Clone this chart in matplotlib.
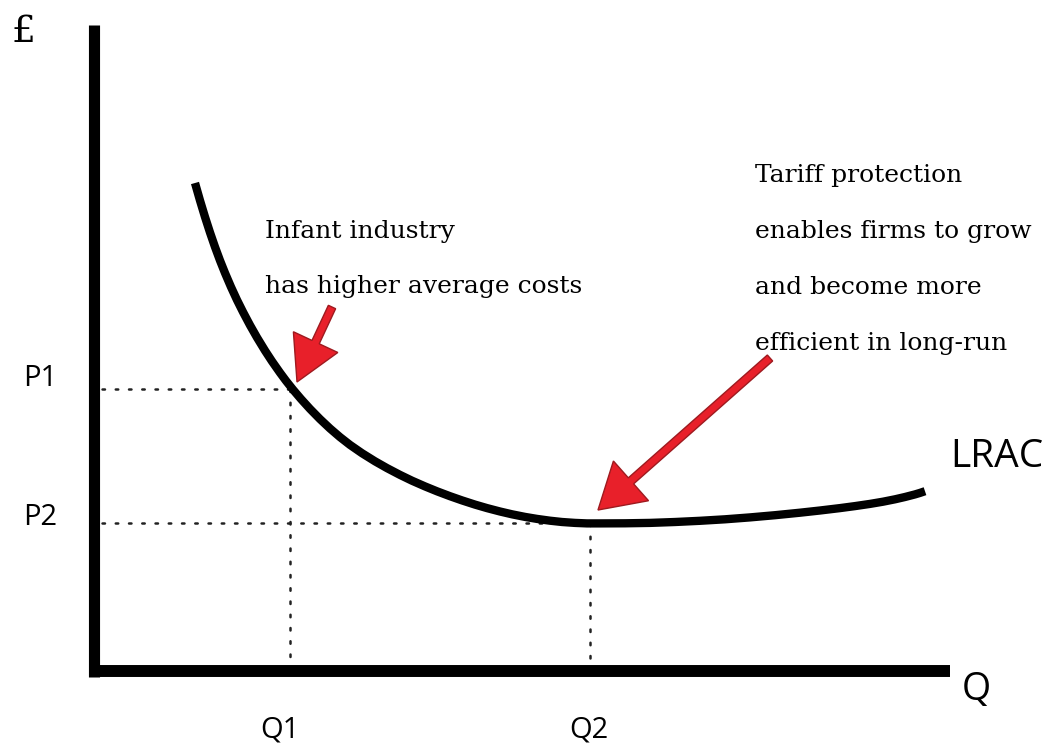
import matplotlib
matplotlib.use("Agg")
import matplotlib.pyplot as plt
from matplotlib.patches import FancyArrow

# Everything is laid out in picture pixels (x right, y down)
W, H = 1055, 746

# LRAC curve
lrac_x = [195, 200, 205, 210, 215, 220, 225, 231, 237, 243, 250, 257, 265, 272,
          280, 286, 293, 301, 310, 320, 330, 340, 350, 362, 375, 387, 400, 412,
          425, 437, 450, 462, 475, 487, 500, 512, 525, 537, 550, 562, 575, 587,
          600, 625, 650, 675, 700, 725, 750, 775, 800, 820, 840, 855, 870, 883,
          895, 905, 915, 920, 925]
lrac_y = [183, 200.5, 217, 232.5, 247, 260.5, 273, 287, 300, 312, 325.2, 337.5,
          350.6, 361.3, 372.7, 380.8, 389.6, 399, 408.9, 419.1, 428.5, 437.1,
          444.9, 453.2, 461.3, 468.1, 474.9, 480.7, 486.4, 491.3, 496.2, 500.4,
          504.6, 508.1, 511.5, 514.3, 516.9, 518.9, 520.7, 522, 522.9, 523.4,
          523.4, 523.3, 522.9, 522, 520.8, 519.3, 517.4, 515.2, 512.7, 510.5,
          508.1, 506.1, 503.9, 501.7, 499.3, 497, 494.4, 492.9, 491.2]

# price / quantity levels
p_levels = [389, 523]
p_labels = ["P1", "P2"]
p_label_y = [386, 525]
q_levels = [290, 590]
q_labels = ["Q1", "Q2"]
q_label_x = [280, 589]

origin_x, origin_y = 93.5, 670.5
axis_top, axis_right = 25, 950

left_note = ["Infant industry", "has higher average costs"]
right_note = ["Tariff protection", "enables firms to grow",
              "and become more", "efficient in long-run"]

# arrows: (tail x, tail y, tip x, tip y)
arrows = [(332, 307, 297, 382), (770, 358, 598, 510)]

fig = plt.figure(figsize=(W / 100, H / 100), dpi=100)
ax = fig.add_axes([0, 0, 1, 1])
ax.set_xlim(0, W)
ax.set_ylim(H, 0)
ax.axis('off')

# axes
ax.plot([origin_x, origin_x], [axis_top, origin_y + 6], color='black', lw=8, solid_capstyle='butt')
ax.plot([origin_x - 5, axis_right], [origin_y, origin_y], color='black', lw=8.6, solid_capstyle='butt')

# dotted guides
dots = dict(color='#222222', lw=1.8, linestyle=(0, (1, 4.3)), dash_capstyle='round')
for py, qx in zip(p_levels, q_levels):
    ax.plot([102, qx], [py, py], **dots)
    ax.plot([qx, qx], [py, origin_y - 8], **dots)

# curve
ax.plot(lrac_x, lrac_y, color='black', lw=6, solid_capstyle='butt', solid_joinstyle='round')

# labels
sans = 'Open Sans'
for ly, lab in zip(p_label_y, p_labels):
    ax.text(40, ly, lab, fontsize=21, family=sans, ha='center', va='baseline')
for lx, lab in zip(q_label_x, q_labels):
    ax.text(lx, 738, lab, fontsize=21, family=sans, ha='center', va='baseline')
ax.text(976, 700, "Q", fontsize=27, family=sans, ha='center', va='baseline')
ax.text(950, 467, "LRAC", fontsize=28, family=sans, ha='left', va='baseline')

serif = 'DejaVu Serif'
ax.text(11, 42, "£", fontsize=27, family=serif, ha='left', va='baseline')
for i, line in enumerate(left_note):
    ax.text(265, 238 + i * 55, line, fontsize=18, family=serif, ha='left', va='baseline')
for i, line in enumerate(right_note):
    ax.text(755, 182 + i * 56, line, fontsize=18, family=serif, ha='left', va='baseline')

# red arrows
for (x0, y0, x1, y1), hw in zip(arrows, [49, 53]):
    ax.add_patch(FancyArrow(x0, y0, x1 - x0, y1 - y0, width=8, head_width=hw,
                            head_length=44, length_includes_head=True,
                            fc='#e8202a', ec='#9e1a1f', lw=1))

fig.savefig('out.png', dpi=100)
